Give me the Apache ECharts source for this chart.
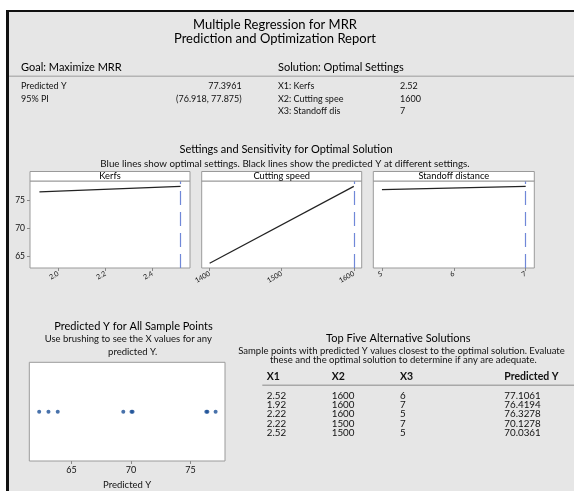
<!DOCTYPE html>
<html>
<head>
<meta charset="utf-8">
<script src="https://cdn.jsdelivr.net/npm/echarts@6/dist/echarts.min.js"></script>
<style>
html,body{margin:0;padding:0;background:#fff;}
#c{width:574px;height:491px;}
</style>
</head>
<body>
<div id="c"></div>
<script>
// ---- data ----
const reportTitle = ['Multiple Regression for MRR', 'Prediction and Optimization Report'];
const goalText = 'Goal: Maximize MRR';
const solutionText = 'Solution: Optimal Settings';
const predLabels = ['Predicted Y', '95% PI'];
const predValues = ['77.3961', '(76.918, 77.875)'];
const settingLabels = ['X1: Kerfs', 'X2: Cutting spee', 'X3: Standoff dis'];
const settingValues = ['2.52', '1600', '7'];

const sensTitle = 'Settings and Sensitivity for Optimal Solution';
const sensSubtitle = 'Blue lines show optimal settings. Black lines show the predicted Y at different settings.';
const panelNames = ['Kerfs', 'Cutting speed', 'Standoff distance'];
const optimalSettings = [2.52, 1600, 7];
const kerfsLine = [[1.92, 76.42], [2.52, 77.40]];
const speedLine = [[1400, 63.84], [1600, 77.40]];
const standoffLine = [[5, 76.82], [7, 77.40]];
const sensYTicks = [65, 70, 75];
const kerfsTicks = [2.0, 2.2, 2.4];
const speedTicks = [1400, 1500, 1600];
const standoffTicks = [5, 6, 7];

const dotTitle = ['Predicted Y for All Sample Points', 'Use brushing to see the X values for any', 'predicted Y.'];
const samplePredY = [62.28, 63.06, 63.84, 69.35, 70.13, 70.04, 76.42, 76.33, 77.11];
const dotTicks = [65, 70, 75];
const dotAxisName = 'Predicted Y';

const altTitle = 'Top Five Alternative Solutions';
const altSubtitle = ['Sample points with predicted Y values closest to the optimal solution. Evaluate', 'these and the optimal solution to determine if any are adequate.'];
const altHeaders = ['X1', 'X2', 'X3', 'Predicted Y'];
const altX1 = ['2.52', '1.92', '2.22', '2.22', '2.52'];
const altX2 = ['1600', '1600', '1600', '1500', '1500'];
const altX3 = ['6', '7', '5', '7', '5'];
const altY = ['77.1061', '76.4194', '76.3278', '70.1278', '70.0361'];

// ---- build ----
const FF = 'Lato, Open Sans, sans-serif';
const chart = echarts.init(document.getElementById('c'), null, {renderer: 'canvas'});

function txt(text, x, y, size, opts) {
  opts = opts || {};
  return {
    type: 'text', z: 20,
    style: {
      text: text, x: x, y: y,
      font: (opts.weight || 'normal') + ' ' + size + 'px ' + FF,
      fill: opts.color || '#111',
      textAlign: opts.align || 'left',
      textVerticalAlign: 'middle'
    }
  };
}

const g = [];
// background panel and borders
g.push({type: 'rect', z: -10, shape: {x: 9, y: 12, width: 565, height: 479}, style: {fill: '#e6e6e6'}});
g.push({type: 'rect', z: -9, shape: {x: 6, y: 10, width: 568, height: 2}, style: {fill: '#111'}});
g.push({type: 'rect', z: -9, shape: {x: 6, y: 10, width: 3, height: 481}, style: {fill: '#111'}});

// report header
g.push(txt(reportTitle[0], 275, 25, 13, {color: '#000', align: 'center'}));
g.push(txt(reportTitle[1], 275, 38.5, 13, {color: '#000', align: 'center'}));
g.push(txt(goalText, 21, 67.3, 11, {color: '#000'}));
g.push(txt(solutionText, 278, 67.3, 11, {color: '#000'}));
g.push({type: 'rect', z: -5, shape: {x: 9, y: 75.5, width: 565, height: 1.5}, style: {fill: '#b4b4b4'}});
const rowY = [86.5, 98.8, 111];
predLabels.forEach((t, i) => g.push(txt(t, 21, rowY[i], 9)));
predValues.forEach((t, i) => g.push(txt(t, 241.7, rowY[i], 9, {align: 'right'})));
settingLabels.forEach((t, i) => g.push(txt(t, 278, rowY[i], 9)));
settingValues.forEach((t, i) => g.push(txt(t, 400, rowY[i], 9)));

// sensitivity titles
g.push(txt(sensTitle, 286, 149.5, 11, {color: '#000', align: 'center'}));
g.push(txt(sensSubtitle, 285, 163.5, 9.8, {align: 'center'}));

const panels = [
  {left: 30, width: 160},
  {left: 201.7, width: 160},
  {left: 373.3, width: 161}
];
const sensTop = 181, sensH = 87;
panels.forEach((p, i) => {
  g.push({type: 'rect', z: 10, shape: {x: p.left, y: 171.5, width: p.width, height: 9.5},
    style: {fill: '#fff', stroke: '#9a9a9a', lineWidth: 1}});
  g.push(txt(panelNames[i], p.left + p.width / 2, 176.3, 9.3, {align: 'center', color: '#000'}));
});

// dot plot titles
g.push(txt(dotTitle[0], 133.5, 326.7, 11, {color: '#000', align: 'center'}));
g.push(txt(dotTitle[1], 128.3, 339.3, 9.5, {align: 'center'}));
g.push(txt(dotTitle[2], 132.7, 352.3, 9.5, {align: 'center'}));

// alternative solutions table
g.push(txt(altTitle, 398.3, 338.3, 11, {color: '#000', align: 'center'}));
g.push(txt(altSubtitle[0], 401.5, 350.7, 9.5, {align: 'center'}));
g.push(txt(altSubtitle[1], 403.3, 360.3, 9.5, {align: 'center'}));
const colX = [266.7, 331.7, 400, 504.3];
altHeaders.forEach((t, i) => g.push(txt(t, colX[i], 376.7, 10.5, {color: '#111', weight: 'bold'})));
g.push({type: 'rect', z: -5, shape: {x: 262.3, y: 384.5, width: 312, height: 1.5}, style: {fill: '#a8a8a8'}});
const tRowY = [395.7, 405, 414.3, 424, 433.3];
[altX1, altX2, altX3, altY].forEach((col, ci) => {
  col.forEach((t, ri) => g.push(txt(t, colX[ci], tRowY[ri], 9.8)));
});

// ---- axes ----
const gridBase = {show: true, backgroundColor: '#fff', borderColor: '#9a9a9a', borderWidth: 1, containLabel: false};
const grids = panels.map(p => Object.assign({}, gridBase, {left: p.left, top: sensTop, width: p.width, height: sensH}));
grids.push(Object.assign({}, gridBase, {left: 29.3, top: 362.3, width: 195.7, height: 100.4}));

const axisTxt = {color: '#111', fontFamily: FF};
const xRanges = [[1.88, 2.56], [1389, 1611], [4.88, 7.12]];
const xTicks = [kerfsTicks, speedTicks, standoffTicks];
const xFmt = [v => Number(v).toFixed(1), v => String(v), v => String(v)];

const xAxes = xRanges.map((r, i) => ({
  type: 'value', gridIndex: i, min: r[0], max: r[1],
  axisLine: {show: false, onZero: false}, splitLine: {show: false},
  axisTick: {show: true, length: 3, lineStyle: {color: '#888'}, customValues: xTicks[i]},
  axisLabel: Object.assign({show: true, fontSize: 7, rotate: 30, margin: 5, customValues: xTicks[i], formatter: xFmt[i]}, axisTxt)
}));
xAxes.push({
  type: 'value', gridIndex: 3, min: 61.45, max: 77.9,
  axisLine: {show: false, onZero: false}, splitLine: {show: false},
  axisTick: {show: true, length: 3, lineStyle: {color: '#888'}, customValues: dotTicks},
  axisLabel: Object.assign({fontSize: 9, margin: 5, customValues: dotTicks}, axisTxt),
  name: dotAxisName, nameLocation: 'middle', nameGap: 19,
  nameTextStyle: {fontSize: 9.5, color: '#111', fontFamily: FF}
});

const yAxes = [0, 1, 2].map(i => ({
  type: 'value', gridIndex: i, min: 63, max: 78.35,
  axisLine: {show: false, onZero: false}, splitLine: {show: false},
  axisTick: {show: i === 0, length: 3, lineStyle: {color: '#888'}, customValues: sensYTicks},
  axisLabel: Object.assign({show: i === 0, fontSize: 8.5, margin: 5, customValues: sensYTicks}, axisTxt)
}));
yAxes.push({type: 'value', gridIndex: 3, min: -1, max: 1, show: false});

const lines = [kerfsLine, speedLine, standoffLine];
const series = lines.map((d, i) => ({
  type: 'line', xAxisIndex: i, yAxisIndex: i, data: d,
  showSymbol: false, symbol: 'none', silent: true, animation: false,
  lineStyle: {color: '#222', width: 1.2},
  markLine: {
    silent: true, symbol: 'none', animation: false,
    label: {show: false},
    lineStyle: {color: '#7088d8', width: 1.2, type: [14, 7]},
    data: [{xAxis: optimalSettings[i]}]
  }
}));
series.push({
  type: 'scatter', xAxisIndex: 3, yAxisIndex: 3,
  data: samplePredY.map(v => [v, 0]),
  symbol: 'circle', symbolSize: 4, animation: false,
  itemStyle: {color: '#1a4f96'}
});

chart.setOption({
  animation: false,
  backgroundColor: '#fff',
  grid: grids,
  xAxis: xAxes,
  yAxis: yAxes,
  series: series,
  graphic: {elements: g}
});
</script>
</body>
</html>
